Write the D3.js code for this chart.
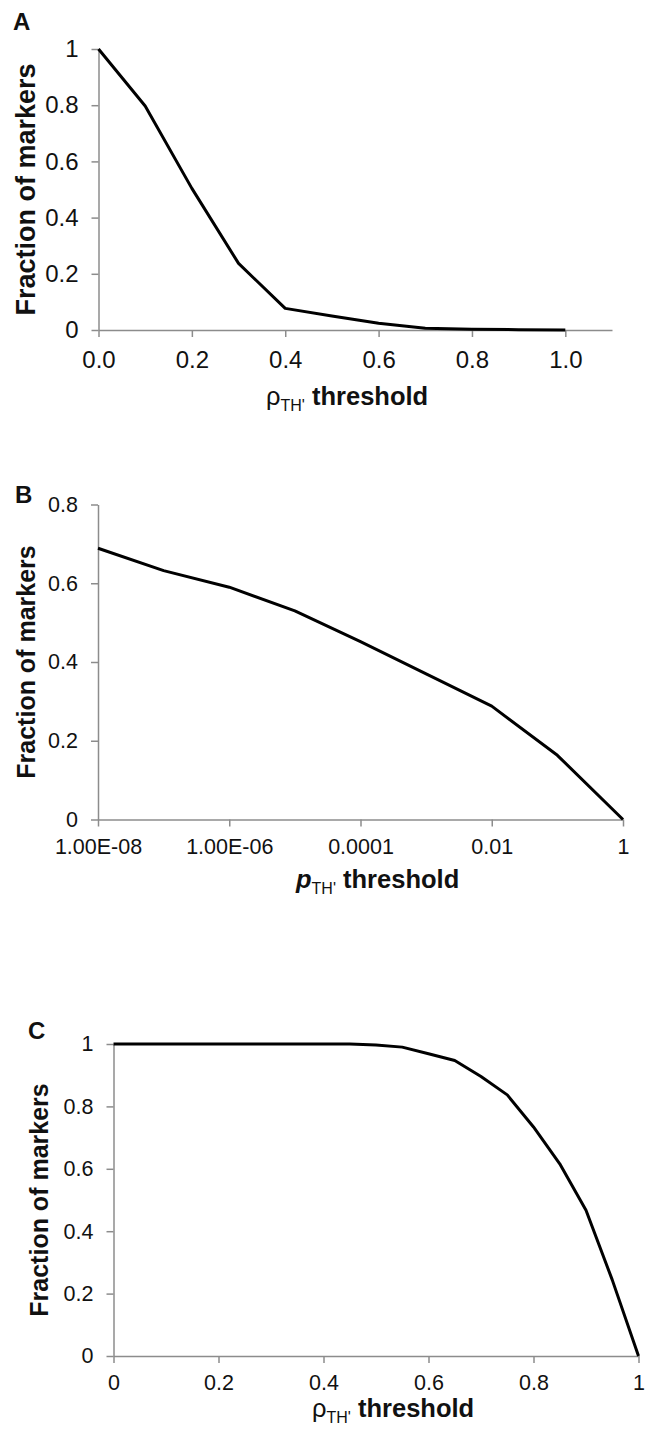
<!DOCTYPE html>
<html>
<head>
<meta charset="utf-8">
<script src="https://cdn.jsdelivr.net/npm/d3@7"></script>
<style>
  body { margin: 0; background: #fff; }
  svg { display: block; font-family: "Liberation Sans", Arial, sans-serif; }
  .axis path, .axis line { stroke: #8c8c8c; stroke-width: 1.5; }
  .axis text { fill: #111; font-family: "Liberation Sans", Arial, sans-serif; }
  .curve { fill: none; stroke: #000; stroke-width: 3; stroke-linejoin: round; stroke-linecap: butt; }
  .panel-label { font-weight: bold; fill: #111; }
  .axis-label { font-weight: bold; fill: #111; }
</style>
</head>
<body>
<div id="chart"></div>
<script>
// panel A: rho threshold (0.0 - 1.0)
var xA = [0.0, 0.1, 0.2, 0.3, 0.4, 0.5, 0.6, 0.7, 0.8, 0.9, 1.0]
var yA = [1.0, 0.797, 0.504, 0.237, 0.077, 0.05, 0.024, 0.006, 0.003, 0.001, 0.0]
var xTicksA = [0.0, 0.2, 0.4, 0.6, 0.8, 1.0]
var xTickLabelsA = ["0.0", "0.2", "0.4", "0.6", "0.8", "1.0"]
var yTicksA = [0, 0.2, 0.4, 0.6, 0.8, 1]
var yTickLabelsA = ["0", "0.2", "0.4", "0.6", "0.8", "1"]

// panel B: p threshold (log scale)
var xB = [1e-8, 1e-7, 1e-6, 1e-5, 1e-4, 1e-3, 1e-2, 1e-1, 1]
var yB = [0.689, 0.632, 0.59, 0.53, 0.452, 0.37, 0.288, 0.163, 0.0]
var xTicksB = [1e-8, 1e-6, 1e-4, 1e-2, 1]
var xTickLabelsB = ["1.00E-08", "1.00E-06", "0.0001", "0.01", "1"]
var yTicksB = [0, 0.2, 0.4, 0.6, 0.8]
var yTickLabelsB = ["0", "0.2", "0.4", "0.6", "0.8"]

// panel C: rho threshold (0 - 1)
var xC = [0, 0.05, 0.1, 0.15, 0.2, 0.25, 0.3, 0.35, 0.4, 0.45, 0.5, 0.55, 0.6, 0.65, 0.7, 0.75, 0.8, 0.85, 0.9, 0.95, 1.0]
var yC = [1, 1, 1, 1, 1, 1, 1, 1, 1, 1, 0.997, 0.99, 0.969, 0.947, 0.896, 0.837, 0.734, 0.616, 0.467, 0.244, 0.0]
var xTicksC = [0, 0.2, 0.4, 0.6, 0.8, 1]
var xTickLabelsC = ["0", "0.2", "0.4", "0.6", "0.8", "1"]
var yTicksC = [0, 0.2, 0.4, 0.6, 0.8, 1]
var yTickLabelsC = ["0", "0.2", "0.4", "0.6", "0.8", "1"]

var svg = d3.select("#chart")
    .append("svg")
    .attr("width", 649)
    .attr("height", 1435)

function fraction_chart(config){
    var m = config.margin
    var width = m.right - m.left,
        height = m.bottom - m.top

    var g = svg.append("g")
        .attr("transform", "translate(" + m.left + "," + m.top + ")")

    var x = config.log ? d3.scaleLog() : d3.scaleLinear()
    x.domain(config.xDomain).range([0, width])

    var y = d3.scaleLinear()
        .domain(config.yDomain)
        .range([height, 0])

    var x_axis = d3.axisBottom(x)
        .tickValues(config.xTicks)
        .tickFormat(function(d, i){ return config.xTickLabels[i] })
        .tickSizeInner(7)
        .tickSizeOuter(0)
        .tickPadding(config.xPad)

    var y_axis = d3.axisLeft(y)
        .tickValues(config.yTicks)
        .tickFormat(function(d, i){ return config.yTickLabels[i] })
        .tickSizeInner(7)
        .tickSizeOuter(0)
        .tickPadding(13)

    g.append("g")
        .attr("class", "axis axis--x")
        .attr("transform", "translate(0," + height + ")")
        .call(x_axis)
        .selectAll("text")
        .attr("font-size", config.tickFont)

    g.append("g")
        .attr("class", "axis axis--y")
        .call(y_axis)
        .selectAll("text")
        .attr("font-size", config.tickFont)

    var points = config.xs.map(function(d, i){ return {x: d, y: config.ys[i]} })

    g.append("path")
        .datum(points)
        .attr("class", "curve")
        .attr("d", d3.line()
            .x(function(d){ return x(d.x) })
            .y(function(d){ return y(d.y) })
        )

    // panel letter
    svg.append("text")
        .attr("class", "panel-label")
        .attr("x", config.letterPos[0])
        .attr("y", config.letterPos[1])
        .attr("font-size", 24)
        .text(config.letter)

    // y axis title
    svg.append("text")
        .attr("class", "axis-label")
        .attr("transform", "translate(" + config.yTitleX + "," + (m.top + height / 2) + ") rotate(-90)")
        .attr("text-anchor", "middle")
        .attr("font-size", config.yTitleFont)
        .text("Fraction of markers")

    // x axis title
    var xt = svg.append("text")
        .attr("x", config.xTitlePos[0])
        .attr("y", config.xTitlePos[1])
        .attr("font-size", 25.5)
        .attr("fill", "#111")

    xt.append("tspan")
        .attr("font-weight", config.symbolBold ? "bold" : "normal")
        .attr("font-style", config.symbolItalic ? "italic" : "normal")
        .text(config.symbol)
    xt.append("tspan")
        .attr("font-size", 16)
        .attr("dy", 6)
        .text("TH'")
    xt.append("tspan")
        .attr("dy", -6)
        .attr("font-weight", "bold")
        .text(" threshold")
}

fraction_chart({
    letter: "A", letterPos: [13, 30],
    margin: {left: 98.5, right: 612, top: 49, bottom: 330},
    xDomain: [0, 1.1], yDomain: [0, 1],
    xs: xA, ys: yA,
    xTicks: xTicksA, xTickLabels: xTickLabelsA,
    yTicks: yTicksA, yTickLabels: yTickLabelsA,
    tickFont: 24, xPad: 14,
    yTitleX: 35, yTitleFont: 27,
    xTitlePos: [266, 405], symbol: "ρ"
})

fraction_chart({
    letter: "B", letterPos: [15, 503],
    margin: {left: 98, right: 623, top: 504.5, bottom: 819.5},
    log: true,
    xDomain: [1e-8, 1], yDomain: [0, 0.8],
    xs: xB, ys: yB,
    xTicks: xTicksB, xTickLabels: xTickLabelsB,
    yTicks: yTicksB, yTickLabels: yTickLabelsB,
    tickFont: 21.5, xPad: 12,
    yTitleX: 35, yTitleFont: 25,
    xTitlePos: [296, 888], symbol: "p", symbolBold: true, symbolItalic: true
})

fraction_chart({
    letter: "C", letterPos: [28, 1039],
    margin: {left: 113.5, right: 638.5, top: 1044, bottom: 1356},
    xDomain: [0, 1], yDomain: [0, 1],
    xs: xC, ys: yC,
    xTicks: xTicksC, xTickLabels: xTickLabelsC,
    yTicks: yTicksC, yTickLabels: yTickLabelsC,
    tickFont: 21.5, xPad: 12,
    yTitleX: 48, yTitleFont: 25,
    xTitlePos: [312, 1417], symbol: "ρ"
})
</script>
</body>
</html>
